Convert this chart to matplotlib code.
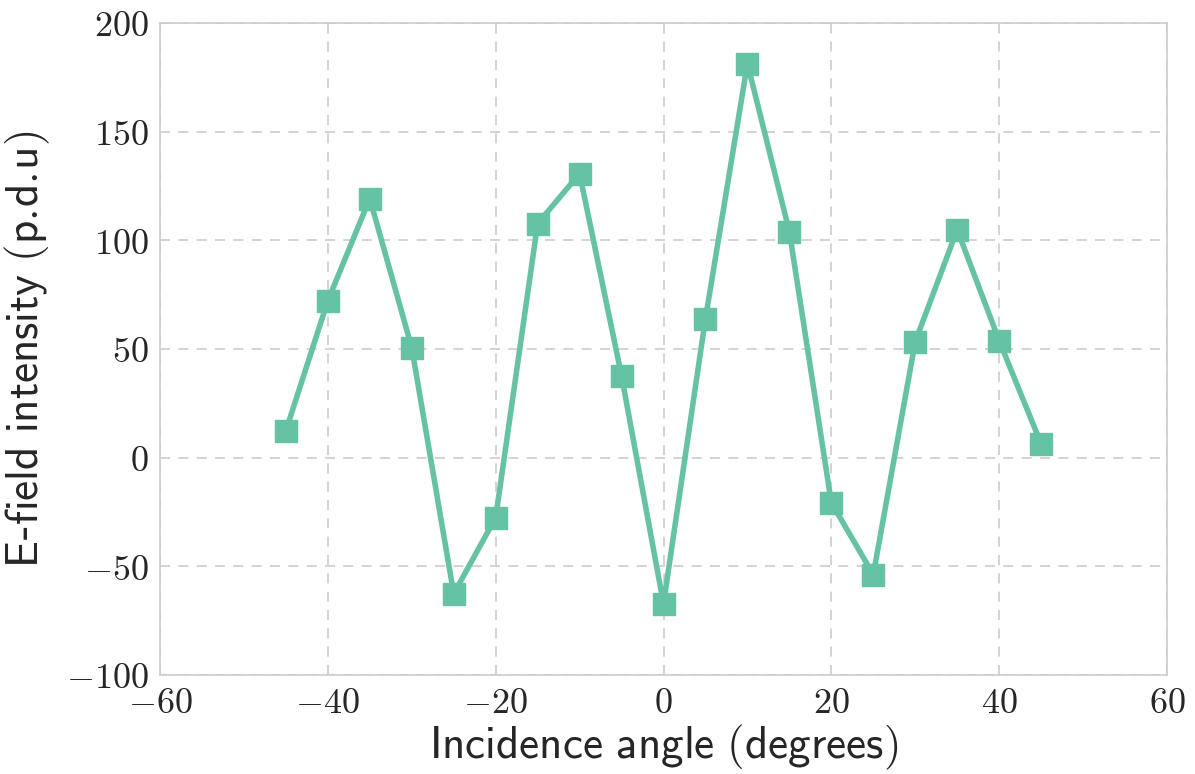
import matplotlib
matplotlib.use("Agg")
import matplotlib.pyplot as plt

# incidence angle (degrees) and measured field intensity
angles = [-45, -40, -35, -30, -25, -20, -15, -10, -5, 0,
          5, 10, 15, 20, 25, 30, 35, 40, 45]
intensity = [12.4, 72.2, 119.2, 50.6, -62.6, -27.6, 107.7, 130.7, 37.7, -67.2,
             64.0, 181.3, 104.0, -20.7, -53.8, 53.4, 104.9, 53.8, 6.4]

xticks = [-60, -40, -20, 0, 20, 40, 60]
yticks = [-100, -50, 0, 50, 100, 150, 200]

plt.rcParams['mathtext.fontset'] = 'cm'
plt.rcParams['axes.unicode_minus'] = True

fig = plt.figure(figsize=(11.95, 7.74), dpi=100)
ax = fig.add_axes([160 / 1195, 1 - 675 / 774, 1007 / 1195, 652 / 774])

ax.plot(angles, intensity, color='#66c2a5', lw=4, marker='s', ms=16,
        mec='#66c2a5', zorder=3)

ax.set_xlim(-60, 60)
ax.set_ylim(-100, 200)
ax.set_xticks(xticks)
ax.set_yticks(yticks)
ax.set_xticklabels([r'$%d$' % t for t in xticks])
ax.set_yticklabels([r'$%d$' % t for t in yticks])
ax.tick_params(labelsize=26, colors='#262626', length=0, pad=8)

ax.grid(True, ls='--', color='#cccccc', lw=1.2, dashes=(6, 5))
ax.set_axisbelow(True)
for s in ax.spines.values():
    s.set_color('#cccccc')
    s.set_linewidth(1.2)

ax.set_xlabel(r'$\mathsf{Incidence\ angle\ (degrees)}$', fontsize=32.5,
              color='#262626', labelpad=2)
ax.set_ylabel(r'$\mathsf{E}$-$\mathsf{field\ intensity\ (p.\!d.\!u)}$',
              fontsize=32.5, color='#262626', labelpad=10)

fig.savefig('out.png', dpi=100, facecolor='white')
